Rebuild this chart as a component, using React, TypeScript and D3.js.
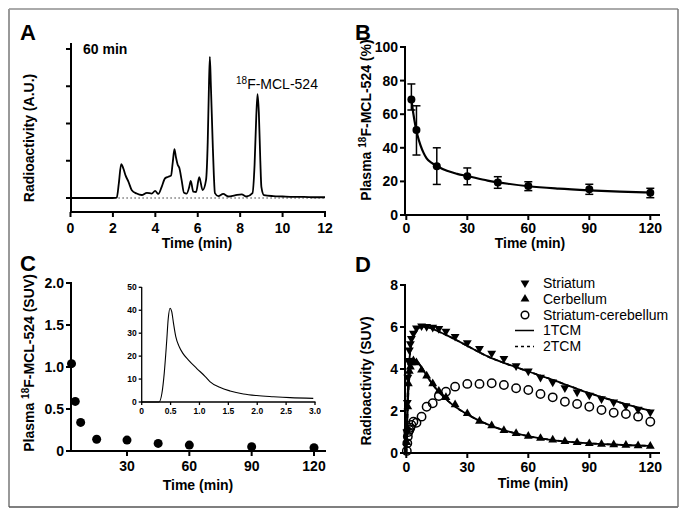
import React from "react";
import * as d3 from "d3";

// ---------- Panel A: radio-HPLC chromatogram (60 min) ----------
const chromTime = [0, 1, 2.0, 2.18, 2.28, 2.39, 2.5, 2.6, 2.73, 2.89, 3.12, 3.36, 3.6, 3.83, 3.99, 4.14, 4.3, 4.46, 4.61, 4.74, 4.82, 4.9, 4.97, 5.05, 5.13, 5.24, 5.35, 5.48, 5.6, 5.67, 5.79, 5.92, 6.07, 6.23, 6.39, 6.47, 6.52, 6.57, 6.62, 6.7, 6.76, 6.81, 6.97, 7.2, 7.44, 7.75, 8.07, 8.3, 8.58, 8.68, 8.76, 8.82, 8.88, 8.95, 9.0, 9.12, 9.56, 10, 10.5, 11, 11.5, 12];
const chromSignal = [0, 0, 0, 0.01, 0.4, 0.91, 0.78, 0.6, 0.44, 0.21, 0.12, 0.08, 0.14, 0.12, 0.19, 0.11, 0.3, 0.53, 0.57, 0.6, 0.95, 1.31, 1.1, 0.9, 0.81, 0.48, 0.14, 0.12, 0.3, 0.46, 0.17, 0.16, 0.56, 0.21, 0.48, 1.5, 2.8, 3.79, 3.0, 1.56, 0.6, 0.13, 0.05, 0.11, 0.04, 0.07, 0.1, 0.04, 0.13, 0.9, 2.2, 2.79, 2.3, 1.0, 0.3, 0.08, 0.05, 0.04, 0.03, 0.03, 0.02, 0.02];
const chromXTicks = [0, 2, 4, 6, 8, 10, 12];
const chromYTicks = [0, 1, 2, 3, 4];

// ---------- Panel B: parent fraction in plasma ----------
const plasmaTime = [2.5, 5, 15, 30, 45, 60, 90, 120];
const plasmaMean = [68.7, 50.6, 29, 23, 19.3, 17.2, 15.3, 13.3];
const plasmaLow = [62.5, 35.7, 18.2, 18, 15.9, 14.5, 12.3, 10.3];
const plasmaHigh = [78, 65, 40, 28, 22.8, 19.8, 18.3, 15.9];
const plasmaFitTime = [2.5, 3.5, 4.5, 5.5, 7, 8.5, 10, 12.5, 15, 20, 25, 30, 40, 50, 60, 75, 90, 105, 120];
const plasmaFitValue = [69, 60, 53, 47.5, 41.5, 37, 33.7, 31, 29.2, 26.3, 24.5, 23.2, 20.5, 18.6, 17.1, 15.7, 14.7, 13.9, 13.4];
const bXTicks = [0, 30, 60, 90, 120];
const bYTicks = [0, 20, 40, 60, 80, 100];

// ---------- Panel C: plasma input (SUV) ----------
const suvTime = [3.3, 5.1, 7.7, 15.4, 30, 45, 60, 90, 120];
const suvValue = [1.04, 0.59, 0.34, 0.14, 0.13, 0.09, 0.07, 0.05, 0.04];
const cXTicks = [30, 60, 90, 120];
const cYTicks = [0, 0.5, 1.0, 1.5, 2.0];
const cYTickLabels = ["0", "0.5", "1.0", "1.5", "2.0"];
const inputTime = [0, 0.3, 0.35, 0.39, 0.43, 0.46, 0.49, 0.52, 0.55, 0.59, 0.65, 0.71, 0.81, 0.95, 1.1, 1.18, 1.35, 1.53, 1.76, 1.99, 2.28, 2.57, 2.97];
const inputValue = [0, 0, 3.8, 12.5, 25.6, 36.5, 40.9, 39.4, 34.4, 28.5, 24.1, 21.3, 18.3, 14.7, 11.1, 8.9, 6.4, 4.8, 3.5, 2.8, 2.3, 1.9, 1.6];
const insetXTicks = [0, 0.5, 1.0, 1.5, 2.0, 2.5, 3.0];
const insetXTickLabels = ["0", "0.5", "1.0", "1.5", "2.0", "2.5", "3.0"];
const insetYTicks = [0, 10, 20, 30, 40, 50];

// ---------- Panel D: time-activity curves ----------
const tacTime = [0.25, 0.5, 0.75, 1, 1.5, 2, 2.5, 3.5, 5, 7.5, 10, 13, 16, 19.5, 24, 30, 36, 42, 48, 54, 60, 66, 72, 78, 84, 90, 96, 102, 108, 114, 120];
const striatum = [1.0, 2.4, 3.6, 4.4, 4.9, 5.2, 5.45, 5.7, 5.95, 6.05, 6.02, 5.98, 5.92, 5.8, 5.55, 5.25, 4.97, 4.75, 4.5, 4.15, 3.9, 3.6, 3.38, 3.1, 2.9, 2.75, 2.58, 2.42, 2.25, 2.08, 1.95];
const cerebellum = [0.5, 1.2, 2.2, 3.3, 3.9, 4.1, 4.3, 4.4, 4.3, 3.95, 3.67, 3.3, 2.95, 2.65, 2.3, 1.88, 1.52, 1.3, 1.08, 0.93, 0.8, 0.7, 0.62, 0.55, 0.5, 0.45, 0.42, 0.4, 0.37, 0.35, 0.33];
const difference = [0.1, 0.46, 0.78, 1.0, 1.1, 1.2, 1.33, 1.49, 1.44, 1.73, 2.2, 2.37, 2.71, 2.92, 3.16, 3.29, 3.29, 3.32, 3.24, 3.08, 3.0, 2.81, 2.65, 2.44, 2.33, 2.2, 2.05, 1.92, 1.86, 1.73, 1.49];
const striatumFitTime = [0, 0.5, 1, 1.5, 2, 3, 4, 5, 6.5, 8, 10, 12, 15, 20, 25, 30, 40, 50, 60, 70, 80, 90, 100, 110, 120];
const striatumFit = [0, 2.3, 3.6, 4.4, 4.9, 5.45, 5.72, 5.88, 5.98, 6.02, 6.0, 5.94, 5.82, 5.6, 5.36, 5.1, 4.6, 4.22, 3.88, 3.55, 3.2, 2.85, 2.55, 2.27, 2.02];
const cerebellumFitTime = [0, 0.5, 1, 1.5, 2, 3, 4, 5, 6, 8, 10, 12, 15, 20, 25, 30, 40, 50, 60, 70, 80, 90, 100, 110, 120];
const cerebellumFit = [0, 1.5, 2.9, 3.6, 4.0, 4.33, 4.42, 4.38, 4.28, 4.0, 3.68, 3.4, 3.02, 2.52, 2.14, 1.84, 1.36, 1.03, 0.8, 0.64, 0.53, 0.46, 0.41, 0.37, 0.34];
const dXTicks = [0, 30, 60, 90, 120];
const dYTicks = [0, 2, 4, 6, 8];
const legendLabels = ["Striatum", "Cerbellum", "Striatum-cerebellum", "1TCM", "2TCM"];

const FONT = "'Liberation Sans', Arial, Helvetica, sans-serif";
const AXW = 2;

const xA = d3.scaleLinear().domain([0, 12]).range([70.5, 325]);
const yA = d3.scaleLinear().domain([0, 4]).range([198, 49]);
const xB = d3.scaleLinear().domain([0, 120]).range([406.3, 650.3]);
const yB = d3.scaleLinear().domain([0, 100]).range([215, 47]);
const xC = d3.scaleLinear().domain([30, 120]).range([127, 314]);
const yC = d3.scaleLinear().domain([0, 2]).range([451, 283]);
const xI = d3.scaleLinear().domain([0, 3]).range([141.7, 315]);
const yI = d3.scaleLinear().domain([0, 50]).range([402, 287.3]);
const xD = d3.scaleLinear().domain([0, 120]).range([406.3, 650.3]);
const yD = d3.scaleLinear().domain([0, 8]).range([453, 285]);

function linePath(xs: number[], ys: number[], sx: any, sy: any, curve: any = d3.curveLinear) {
  const pts = xs.map((x, i) => [x, ys[i]] as [number, number]);
  return d3.line().x((d: any) => sx(d[0])).y((d: any) => sy(d[1])).curve(curve)(pts) || "";
}

const downTri = d3.symbol().type(d3.symbolTriangle).size(34)();

function XAxis({ scale, ticks, labels, y, x0, x1, fs = 14, tick = 5, lw = AXW, pad = 18 }: any) {
  return (
    <g>
      <line x1={x0} x2={x1} y1={y} y2={y} stroke="#000" strokeWidth={lw} />
      {ticks.map((t: number, i: number) => (
        <g key={i}>
          <line x1={scale(t)} x2={scale(t)} y1={y} y2={y + tick} stroke="#000" strokeWidth={lw} />
          <text x={scale(t)} y={y + pad} textAnchor="middle" fontSize={fs} fontWeight="bold" fontFamily={FONT}>
            {labels ? labels[i] : String(t)}
          </text>
        </g>
      ))}
    </g>
  );
}

function YAxis({ scale, ticks, labels, x, y0, y1, fs = 14, tick = 5, lw = AXW, pad = 7, noLabels = false }: any) {
  return (
    <g>
      <line x1={x} x2={x} y1={y0} y2={y1} stroke="#000" strokeWidth={lw} />
      {ticks.map((t: number, i: number) => (
        <g key={i}>
          <line x1={x - tick} x2={x} y1={scale(t)} y2={scale(t)} stroke="#000" strokeWidth={lw} />
          {!noLabels && (
            <text x={x - pad} y={scale(t) + fs * 0.36} textAnchor="end" fontSize={fs} fontWeight="bold" fontFamily={FONT}>
              {labels ? labels[i] : String(t)}
            </text>
          )}
        </g>
      ))}
    </g>
  );
}

function PanelLetter({ x, y, t }: any) {
  return (
    <text x={x} y={y} fontSize={22} fontWeight="bold" fontFamily={FONT}>{t}</text>
  );
}

function YLabel({ x, y, children }: any) {
  return (
    <text transform={`translate(${x},${y}) rotate(-90)`} textAnchor="middle" fontSize={14} fontWeight="bold" fontFamily={FONT}>
      {children}
    </text>
  );
}

function XLabel({ x, y, t }: any) {
  return (
    <text x={x} y={y} textAnchor="middle" fontSize={14} fontWeight="bold" fontFamily={FONT}>{t}</text>
  );
}

export default function App() {
  return (
    <svg width={687} height={516} style={{ position: "absolute", left: 0, top: 0, background: "#fff" }}>
      <rect x={0} y={0} width={687} height={516} fill="#fff" />
      {/* frame */}
      <line x1={9} y1={9} x2={678} y2={9} stroke="#aaa" strokeWidth={2} />
      <line x1={9} y1={9} x2={9} y2={507} stroke="#999" strokeWidth={2} />
      <line x1={9} y1={507} x2={678} y2={507} stroke="#555" strokeWidth={1.5} />
      <line x1={678} y1={9} x2={678} y2={507} stroke="#777" strokeWidth={1.5} />

      {/* ---------- Panel A ---------- */}
      <PanelLetter x={20} y={40} t="A" />
      <line x1={xA(0)} x2={xA(12)} y1={yA(0)} y2={yA(0)} stroke="#000" strokeWidth={1} strokeDasharray="1.2,2.8" />
      <path d={linePath(chromTime, chromSignal, xA, yA, d3.curveMonotoneX)} fill="none" stroke="#000" strokeWidth={1.8} strokeLinejoin="round" />
      <YAxis scale={yA} ticks={chromYTicks} x={71} y0={43} y1={213} noLabels />
      <XAxis scale={xA} ticks={chromXTicks} y={212} x0={70} x1={326} pad={21} />
      <text x={83} y={54} fontSize={14} fontWeight="bold" fontFamily={FONT}>60 min</text>
      <text x={236} y={89} fontSize={14} fontFamily={FONT}>
        <tspan fontSize={10} dy={-5}>18</tspan>
        <tspan dy={5}>F-MCL-524</tspan>
      </text>
      <YLabel x={34} y={138}>Radioactivity (A.U.)</YLabel>
      <XLabel x={197} y={248} t="Time (min)" />

      {/* ---------- Panel B ---------- */}
      <PanelLetter x={355} y={40} t="B" />
      <path d={linePath(plasmaFitTime, plasmaFitValue, xB, yB, d3.curveMonotoneX)} fill="none" stroke="#000" strokeWidth={2.2} />
      {plasmaTime.map((t, i) => (
        <g key={i}>
          <line x1={xB(t)} x2={xB(t)} y1={yB(plasmaLow[i])} y2={yB(plasmaHigh[i])} stroke="#000" strokeWidth={1.5} />
          <line x1={xB(t) - 4} x2={xB(t) + 4} y1={yB(plasmaLow[i])} y2={yB(plasmaLow[i])} stroke="#000" strokeWidth={1.5} />
          <line x1={xB(t) - 4} x2={xB(t) + 4} y1={yB(plasmaHigh[i])} y2={yB(plasmaHigh[i])} stroke="#000" strokeWidth={1.5} />
          <circle cx={xB(t)} cy={yB(plasmaMean[i])} r={4} fill="#000" />
        </g>
      ))}
      <YAxis scale={yB} ticks={bYTicks} x={405} y0={46} y1={216} />
      <XAxis scale={xB} ticks={bXTicks} y={215} x0={405} x1={660} />
      <YLabel x={371} y={120}>
        Plasma <tspan fontSize={10} dy={-5}>18</tspan><tspan dy={5}>F-MCL-524 (%)</tspan>
      </YLabel>
      <XLabel x={530} y={248} t="Time (min)" />

      {/* ---------- Panel C ---------- */}
      <PanelLetter x={20} y={271} t="C" />
      {suvTime.map((t, i) => (
        <circle key={i} cx={xC(t)} cy={yC(suvValue[i])} r={4.5} fill="#000" />
      ))}
      <YAxis scale={yC} ticks={cYTicks} labels={cYTickLabels} x={71} y0={282} y1={452} />
      <XAxis scale={xC} ticks={cXTicks} y={451} x0={70} x1={326} pad={20} />
      <YLabel x={34} y={363}>
        Plasma <tspan fontSize={10} dy={-5}>18</tspan><tspan dy={5}>F-MCL-524 (SUV)</tspan>
      </YLabel>
      <XLabel x={198} y={490} t="Time (min)" />
      {/* inset */}
      <path d={linePath(inputTime, inputValue, xI, yI, d3.curveMonotoneX)} fill="none" stroke="#000" strokeWidth={1.1} />
      <YAxis scale={yI} ticks={insetYTicks} x={141.7} y0={287} y1={402.5} fs={8.5} tick={3} lw={1.3} pad={5} />
      <XAxis scale={xI} ticks={insetXTicks} labels={insetXTickLabels} y={402} x0={141} x1={315.5} fs={8.5} tick={3} lw={1.3} pad={12} />

      {/* ---------- Panel D ---------- */}
      <PanelLetter x={355} y={272} t="D" />
      <path d={linePath(striatumFitTime, striatumFit, xD, yD, d3.curveMonotoneX)} fill="none" stroke="#000" strokeWidth={1.8} />
      <path d={linePath(striatumFitTime, striatumFit, xD, yD, d3.curveMonotoneX)} fill="none" stroke="#000" strokeWidth={1.8} strokeDasharray="4,3" />
      <path d={linePath(cerebellumFitTime, cerebellumFit, xD, yD, d3.curveMonotoneX)} fill="none" stroke="#000" strokeWidth={1.8} />
      <path d={linePath(cerebellumFitTime, cerebellumFit, xD, yD, d3.curveMonotoneX)} fill="none" stroke="#000" strokeWidth={1.8} strokeDasharray="4,3" />
      {tacTime.map((t, i) => (
        <path key={"s" + i} d={downTri} transform={`translate(${xD(t)},${yD(striatum[i])}) rotate(180)`} fill="#000" />
      ))}
      {tacTime.map((t, i) => (
        <path key={"c" + i} d={downTri} transform={`translate(${xD(t)},${yD(cerebellum[i])})`} fill="#000" />
      ))}
      {tacTime.map((t, i) => (
        <circle key={"d" + i} cx={xD(t)} cy={yD(difference[i])} r={4.2} fill="#fff" fillOpacity={0} stroke="#000" strokeWidth={1.5} />
      ))}
      <YAxis scale={yD} ticks={dYTicks} x={405} y0={284} y1={454} />
      <XAxis scale={xD} ticks={dXTicks} y={453} x0={405} x1={660} pad={19} />
      <YLabel x={371} y={381}>Radioactivity (SUV)</YLabel>
      <XLabel x={533} y={488} t="Time (min)" />
      {/* legend */}
      <g fontFamily={FONT} fontSize={14}>
        <path d={downTri} transform={`translate(525,${283}) rotate(180)`} fill="#000" />
        <path d={downTri} transform={`translate(525,${299})`} fill="#000" />
        <circle cx={525} cy={315} r={3.8} fill="none" stroke="#000" strokeWidth={1.5} />
        <line x1={515} x2={534} y1={330.5} y2={330.5} stroke="#000" strokeWidth={1.5} />
        <line x1={515} x2={534} y1={346.5} y2={346.5} stroke="#000" strokeWidth={1.5} strokeDasharray="3,3" />
        {legendLabels.map((l, i) => (
          <text key={i} x={543} y={288 + i * 15.8}>{l}</text>
        ))}
      </g>
    </svg>
  );
}
